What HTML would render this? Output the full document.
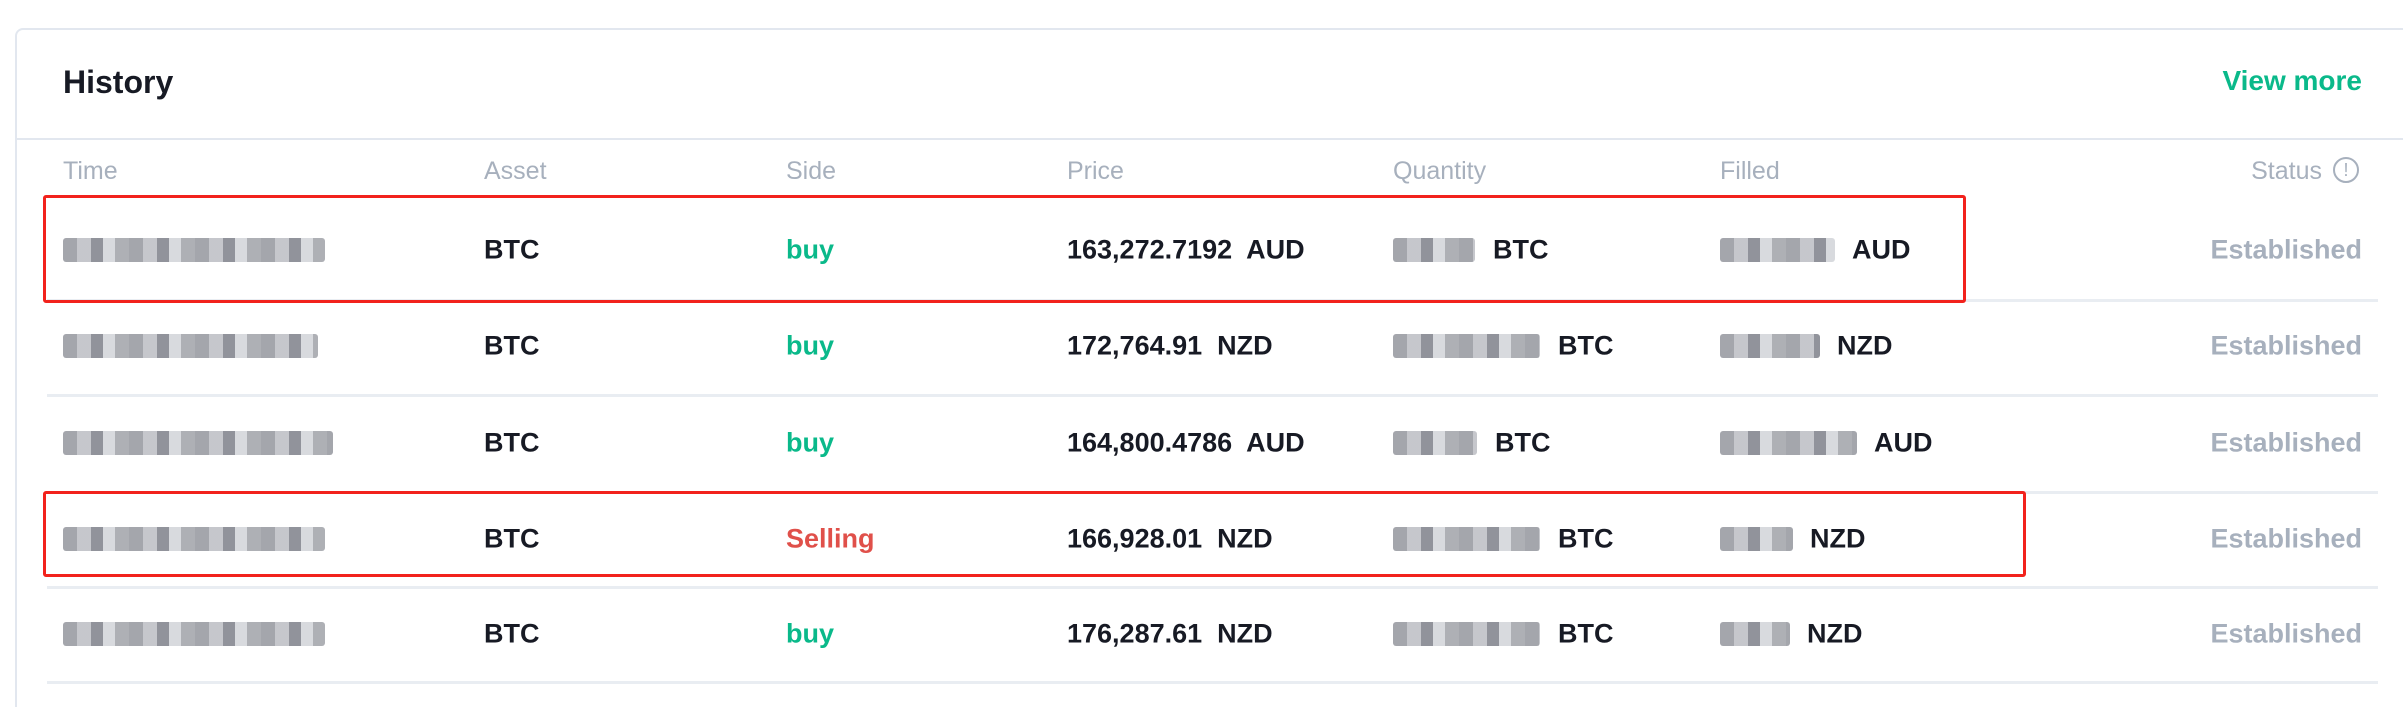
<!DOCTYPE html>
<html style="height:707px;overflow:hidden"><head><meta charset="utf-8">
<style>
body{margin:0;width:2403px;height:707px;background:#fff;overflow:hidden;font-family:"Liberation Sans",Arial,sans-serif;position:relative}
.card{position:absolute;left:15px;top:28px;width:2420px;height:679px;border:2px solid #e2e7ef;border-bottom:none;border-radius:8px 8px 0 0;box-sizing:border-box}
.abs{position:absolute;white-space:nowrap}
.title{left:63px;top:64px;font-size:32px;font-weight:bold;color:#171a24}
.more{right:41px;top:65px;font-size:28px;font-weight:bold;color:#0ab98a}
.hdiv{position:absolute;left:17px;right:0;top:138px;height:2px;background:#e2e7ef}
.th{top:157px;font-size:25px;color:#a7b0bd}
.td{font-size:27px;font-weight:bold;color:#171a24;transform:translateY(-50%)}
.green{color:#0ab98a}.red{color:#e0504a}.est{color:#a7b0bd}
.rdiv{position:absolute;left:47px;width:2331px;height:3px;background:#e9edf2}
.blur{position:absolute;height:24px;transform:translateY(-50%);background:repeating-linear-gradient(90deg,#9a9ca3 0 14px,#bfc1c6 14px 28px,#858790 28px 40px,#d4d6da 40px 52px,#a5a7ad 52px 66px);opacity:.9;border-radius:3px}
.box{position:absolute;border:3px solid #f2221c;border-radius:3px;box-sizing:border-box}
.icon{position:absolute;left:2333px;top:157px;width:26px;height:26px;border:2px solid #a7b0bd;border-radius:50%;box-sizing:border-box;color:#a7b0bd;font-size:18px;text-align:center;line-height:22px}
</style></head><body>
<div class="card"></div>
<div class="abs title">History</div>
<div class="abs more">View more</div>
<div class="hdiv"></div>
<div class="abs th" style="left:63px">Time</div>
<div class="abs th" style="left:484px">Asset</div>
<div class="abs th" style="left:786px">Side</div>
<div class="abs th" style="left:1067px">Price</div>
<div class="abs th" style="left:1393px">Quantity</div>
<div class="abs th" style="left:1720px">Filled</div>
<div class="abs th" style="right:81px">Status</div>
<div class="icon">!</div>

<div id="rows"></div>
<div class="box" style="left:43px;top:195px;width:1923px;height:108px"></div>
<div class="box" style="left:43px;top:491px;width:1983px;height:86px"></div>

<script>
const ys=[250,346,443,539,634];
const divs=[300,395,492,587,682];
const sides=["buy","buy","buy","Selling","buy"];
const prices=["163,272.7192&nbsp; AUD","172,764.91&nbsp; NZD","164,800.4786&nbsp; AUD","166,928.01&nbsp; NZD","176,287.61&nbsp; NZD"];
const qtyBlur=[82,147,84,147,147];
const fillBlur=[115,100,137,73,70];
const fillCur=["AUD","NZD","AUD","NZD","NZD"];
const dateBlur=[262,255,270,262,262];
const root=document.getElementById('rows');
function add(html){const t=document.createElement('div');t.innerHTML=html;const e=t.firstChild;root.appendChild(e);return e;}
ys.forEach((y,i)=>{
  let e;
  e=add(`<div class="blur" style="left:63px;top:${y}px;width:${dateBlur[i]}px"></div>`);
  
  
  e=add(`<div class="abs td" style="left:484px;top:${y}px">BTC</div>`);
  
  
  e=add(`<div class="abs td ${sides[i]=='buy'?'green':'red'}" style="left:786px;top:${y}px">${sides[i]}</div>`);
  
  
  e=add(`<div class="abs td" style="left:1067px;top:${y}px">${prices[i]}</div>`);
  
  
  e=add(`<div class="blur" style="left:1393px;top:${y}px;width:${qtyBlur[i]}px"></div>`);
  
  
  e=add(`<div class="abs td" style="left:${1393+qtyBlur[i]+18}px;top:${y}px">BTC</div>`);
  
  
  e=add(`<div class="blur" style="left:1720px;top:${y}px;width:${fillBlur[i]}px"></div>`);
  
  
  e=add(`<div class="abs td" style="left:${1720+fillBlur[i]+17}px;top:${y}px">${fillCur[i]}</div>`);
  
  
  e=add(`<div class="abs td est" style="right:41px;top:${y}px">Established</div>`);
  
  
  e=add(`<div class="rdiv" style="top:${divs[i]-1}px"></div>`);
  
  
});
</script>
</body></html>
